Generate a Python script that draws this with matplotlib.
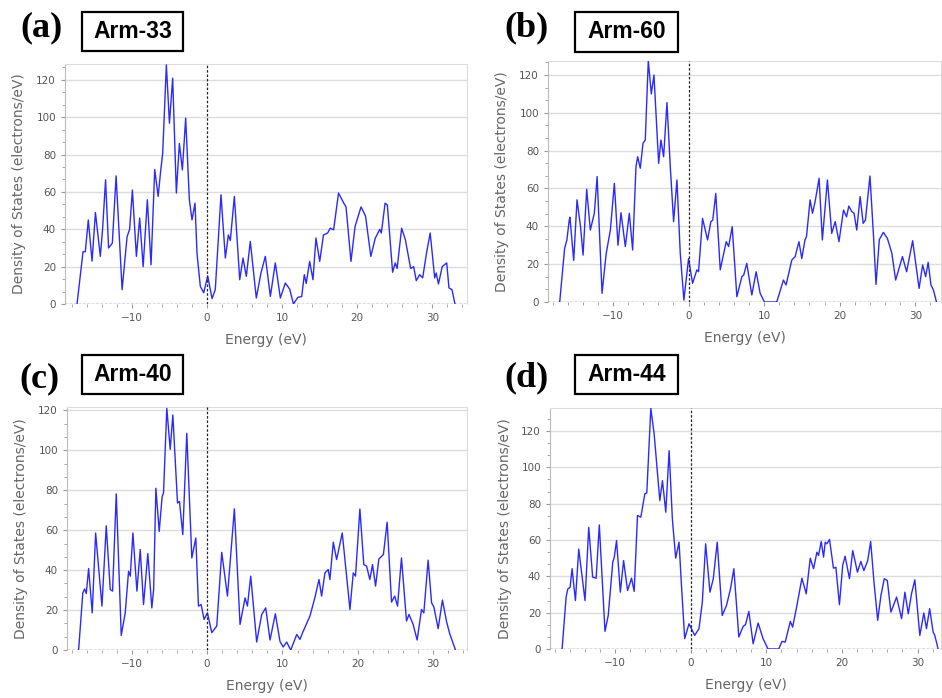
import matplotlib
matplotlib.use("Agg")
import matplotlib.pyplot as plt
from matplotlib.patches import Rectangle
from matplotlib.ticker import MultipleLocator, AutoMinorLocator

e_a = [-17.3, -16.5, -16.2, -15.8, -15.3, -14.85, -14.2, -13.9, -13.5, -13.1, -12.6, -12.1, -11.3, -10.64, -10.3, -9.93, -9.4, -8.96, -8.5, -7.94, -7.45, -6.96, -6.5, -6.2, -5.9, -5.41, -5.0, -4.57, -4.08, -3.68, -3.28, -2.84, -2.35, -2.0, -1.6, -1.33, -0.89, -0.44, 0.09, 0.67, 1.1, 1.86, 2.44, 2.84, 3.1, 3.64, 4.35, 4.79, 5.23, 5.76, 6.56, 7.18, 7.76, 8.43, 9.09, 9.76, 10.42, 11.0, 11.5, 12.1, 12.6, 12.95, 13.2, 13.66, 14.1, 14.5, 15.0, 15.5, 16.05, 16.4, 16.85, 17.5, 18.2, 18.5, 19.16, 19.7, 20.5, 21.1, 21.8, 22.4, 23.0, 23.2, 23.7, 24.0, 24.7, 25.05, 25.3, 25.9, 26.4, 27.1, 27.5, 27.85, 28.3, 28.7, 29.2, 29.7, 30.3, 30.5, 30.8, 31.3, 31.9, 32.2, 32.6, 33.0]
dos_a = [0, 28, 28, 45, 23, 49, 25.5, 40, 66.5, 30, 32.6, 68.6, 7.7, 36, 40, 61, 25.5, 46, 20, 55.8, 21, 72, 57.6, 70, 80.7, 128, 96.8, 120.9, 59.4, 86, 71.8, 99.5, 55.8, 45, 54, 27, 9.4, 6, 15, 2.9, 7.7, 58.5, 24.6, 37, 34, 57.6, 13, 24.6, 14.8, 33.5, 3.2, 16.6, 25.5, 4.1, 22, 3.2, 11.2, 8, 0, 3.6, 4, 15.7, 11, 22.8, 13, 35.3, 22.8, 37, 38, 40.6, 39.7, 59.4, 54, 52, 22.8, 41.5, 52, 47, 25.5, 35.3, 40, 38, 54, 53, 17, 22, 19, 40.6, 34.4, 19, 20, 12.5, 15.7, 14, 27, 38, 14, 16.6, 10.7, 20, 22, 8.6, 7.7, 0]

e_b = [-17.05, -16.4, -16.1, -15.8, -15.7, -15.2, -14.76, -14.3, -13.96, -13.48, -13.0, -12.47, -12.1, -11.45, -10.9, -10.35, -9.82, -9.34, -8.94, -8.37, -7.84, -7.4, -6.96, -6.74, -6.39, -6.03, -5.73, -5.33, -4.93, -4.58, -3.96, -3.66, -3.3, -2.86, -2.42, -1.98, -1.54, -1.1, -0.62, 0.0, 0.53, 1.1, 1.32, 1.85, 2.51, 2.95, 3.2, 3.6, 4.19, 4.98, 5.3, 5.77, 6.39, 7.05, 7.3, 7.7, 8.37, 8.94, 9.47, 10.04, 11.67, 12.55, 12.9, 13.66, 14.1, 14.6, 14.98, 15.4, 15.6, 16.08, 16.4, 16.74, 17.27, 17.7, 18.37, 18.94, 19.4, 19.9, 20.5, 20.9, 21.2, 21.6, 21.9, 22.25, 22.7, 23.1, 23.4, 24.0, 24.45, 24.8, 25.24, 25.77, 26.3, 26.9, 27.4, 28.3, 28.85, 29.65, 30.5, 30.97, 31.37, 31.7, 32.07, 32.4, 32.8]
dos_b = [0, 28.4, 32.8, 43, 44.8, 22, 54, 40, 24.8, 59.6, 38, 46.9, 66.3, 4.6, 25.7, 38, 62.7, 30, 47.2, 29.3, 46.9, 27.5, 71.5, 76.8, 70.7, 83.9, 85.6, 127.6, 110, 120, 73.3, 85.6, 76.8, 105.4, 71.5, 42.5, 64.5, 25.7, 1, 23, 9.9, 17, 16, 44.2, 32.8, 42.5, 43.3, 57.4, 17, 31.9, 29.3, 39.8, 2.8, 13.4, 14.3, 20.4, 3.7, 16, 4.6, 0, 0, 11.6, 9, 22.2, 24, 31.9, 23, 32.8, 34.5, 54, 46.9, 53, 65.4, 32.8, 64.5, 36.3, 42.5, 31.9, 48.6, 45, 50.7, 47.8, 46.9, 38, 55.7, 41.6, 43.3, 66.6, 36.3, 9.3, 33, 36.8, 33.7, 25.7, 11.6, 24, 16, 32.4, 7.2, 19.6, 13.4, 21, 9, 6.3, 0]

e_c = [-17.06, -16.5, -16.26, -16.04, -15.73, -15.25, -14.8, -13.96, -13.39, -12.86, -12.55, -12.06, -11.4, -10.87, -10.43, -10.2, -9.85, -9.32, -8.88, -8.44, -7.87, -7.34, -7.1, -6.8, -6.36, -5.97, -5.79, -5.35, -4.9, -4.55, -3.93, -3.67, -3.23, -2.7, -2.03, -1.5, -1.15, -0.8, -0.4, 0.04, 0.62, 1.28, 1.94, 2.7, 3.62, 4.37, 5.04, 5.35, 5.79, 6.58, 7.25, 7.78, 8.35, 9.06, 9.68, 10.1, 10.56, 11.1, 11.9, 12.33, 12.68, 13.65, 14.3, 14.85, 15.2, 15.64, 16.08, 16.3, 16.75, 17.19, 17.94, 18.96, 19.4, 19.7, 20.28, 20.8, 21.17, 21.6, 21.96, 22.36, 22.8, 23.4, 23.9, 24.48, 24.9, 25.28, 25.8, 26.47, 26.8, 27.35, 27.88, 28.46, 28.77, 29.34, 29.8, 30.1, 30.67, 31.24, 31.77, 32.2, 32.97]
dos_c = [0, 28.6, 30.6, 28.3, 40.8, 18.6, 58.6, 22, 62.2, 30.3, 29.5, 78.2, 7.3, 18.6, 39.4, 37, 58.6, 29.5, 50.3, 22.8, 48.3, 21.1, 30.3, 81, 59.4, 76.9, 78.6, 121, 100.5, 117.7, 73.6, 74.4, 57.8, 108.5, 46.1, 56.1, 22, 22.8, 15.3, 18.6, 8.7, 12, 48.9, 27, 70.7, 12.8, 26.1, 22, 37, 4, 17.8, 21.1, 5, 18.1, 4.2, 1.5, 4, 0, 7.8, 5.3, 8.7, 17, 26.1, 35.3, 27, 38.6, 40.3, 35.3, 54, 45.3, 58.6, 20.3, 38.6, 37, 70.6, 42.8, 42, 35.3, 42.8, 32, 45.6, 47.8, 64, 24, 27, 22, 46.1, 14.5, 17.8, 12.8, 5, 20.3, 18.6, 45, 23.6, 21.6, 10.7, 25, 14.5, 8.2, 0]

e_d = [-17.0, -16.47, -16.25, -15.94, -15.68, -15.24, -14.8, -13.97, -13.48, -12.96, -12.5, -12.08, -11.33, -10.9, -10.3, -10.1, -9.8, -9.3, -8.87, -8.34, -7.82, -7.47, -7.03, -6.59, -6.06, -5.8, -5.27, -4.83, -4.08, -3.73, -3.29, -2.85, -2.42, -1.98, -1.54, -1.19, -0.79, -0.22, 0.53, 1.1, 1.54, 1.98, 2.55, 2.99, 3.51, 4.17, 4.74, 5.27, 5.71, 6.37, 6.94, 7.25, 7.69, 8.26, 8.92, 9.57, 10.23, 11.64, 12.08, 12.5, 13.18, 13.48, 14.05, 14.71, 15.28, 15.81, 16.25, 16.69, 16.91, 17.26, 17.57, 17.79, 18.0, 18.36, 18.88, 19.2, 19.67, 20.1, 20.42, 21.0, 21.43, 22.05, 22.5, 22.9, 23.41, 23.8, 24.24, 24.73, 25.16, 25.6, 26.0, 26.48, 27.23, 27.89, 28.33, 28.77, 29.2, 29.64, 30.3, 30.83, 31.18, 31.6, 32.06, 32.28, 32.72]
dos_d = [0, 28.6, 33, 34, 44.2, 26.7, 55, 26.7, 67, 39.6, 39, 68.3, 9.7, 18.5, 47.8, 50.6, 59.7, 31.3, 48.7, 32.2, 39, 31.7, 73.5, 72.6, 85.4, 86, 132.5, 118.4, 81.7, 92.7, 75.3, 109.2, 71.6, 50, 58.8, 33.2, 5.7, 13.9, 7.5, 11.2, 25.8, 57.9, 31.3, 38.7, 58.8, 18.5, 24, 33.2, 44.2, 6.6, 12.5, 13.4, 20.7, 2.9, 14.3, 5.7, 0, 0, 4.2, 3.8, 15.2, 12, 24, 39, 30.4, 50, 44.2, 53.3, 51.5, 59.2, 50.6, 58.8, 57.9, 60.3, 44.5, 45, 24.4, 46, 51.1, 38.7, 54.2, 42.3, 48.2, 43.2, 48.7, 59.2, 36.8, 15.8, 29.5, 38.7, 37.7, 20.3, 28.6, 16.7, 31.3, 19.4, 30.4, 38.1, 7.5, 19.8, 11.2, 22.2, 9.3, 7.5, 0]

letters = ["(a)", "(b)", "(c)", "(d)"]
names = ["Arm-33", "Arm-60", "Arm-40", "Arm-44"]
energies = [e_a, e_b, e_c, e_d]
dos = [dos_a, dos_b, dos_c, dos_d]

W, H = 942, 698
fig = plt.figure(figsize=(W / 100, H / 100), dpi=100)

# pixel boxes of the plot areas: left, top, right, bottom
boxes = [(65, 64, 467, 304), (548, 61, 941, 302), (67, 407, 467, 650), (550, 408, 941, 649)]
xlims = [(-18.9, 34.6), (-18.6, 33.4), (-18.6, 34.5), (-18.6, 33.1)]
ylims = [128.5, 127.4, 121.7, 132.7]
letter_pos = [(41, 28), (526, 28), (39, 379), (526, 378)]
tag_box = [(82, 12, 183, 51), (575, 12, 678, 52), (82, 355, 183, 394), (575, 355, 678, 394)]

grey = "#555555"
for i in range(4):
    l, t, r, b = boxes[i]
    ax = fig.add_axes([l / W, 1 - b / H, (r - l) / W, (b - t) / H])
    ax.plot(energies[i], dos[i], color="#2a2aff", lw=1.0, zorder=3)
    ax.set_xlim(*xlims[i])
    ax.set_ylim(0, ylims[i])
    ax.axhline(0, color="#222222", lw=0.9, ls=(0, (2, 1.5)), zorder=4)
    ax.axvline(0, color="#222222", lw=0.9, ls=(0, (2, 1.5)), zorder=4)
    ax.yaxis.set_major_locator(MultipleLocator(20))
    ax.yaxis.set_minor_locator(AutoMinorLocator(3))
    ax.xaxis.set_major_locator(MultipleLocator(10))
    ax.xaxis.set_minor_locator(AutoMinorLocator(5))
    ax.grid(axis="y", color="#dddddd", lw=1.0, zorder=0)
    for s in ["top", "right"]:
        ax.spines[s].set_color("#dddddd")
    ax.spines["left"].set_color("#bbbbbb")
    ax.spines["bottom"].set_visible(False)
    ax.tick_params(which="both", colors="#999999", labelcolor=grey, labelsize=7.5, direction="out")
    ax.tick_params(which="major", length=3)
    ax.tick_params(which="minor", length=2)
    ax.set_xlabel("Energy (eV)", fontsize=10, color="#666666")
    ax.set_ylabel("Density of States (electrons/eV)", fontsize=10, color="#666666")
    ax.yaxis.set_label_coords(-0.098, 0.5)
    ax.xaxis.set_label_coords(0.5, -0.12)

    x, y = letter_pos[i]
    fig.text(x / W, 1 - y / H, letters[i], fontsize=26, fontweight="bold",
             family="Liberation Serif", ha="center", va="center")
    x0, y0, x1, y1 = tag_box[i]
    fig.add_artist(Rectangle((x0 / W, 1 - y1 / H), (x1 - x0) / W, (y1 - y0) / H,
                             transform=fig.transFigure, fill=False, ec="black", lw=1.6))
    fig.text((x0 + x1) / 2 / W, 1 - (y0 + y1) / 2 / H, names[i], fontsize=16.5,
             fontweight="bold", family="Liberation Sans", ha="center", va="center")

fig.savefig("out.png", dpi=100)
